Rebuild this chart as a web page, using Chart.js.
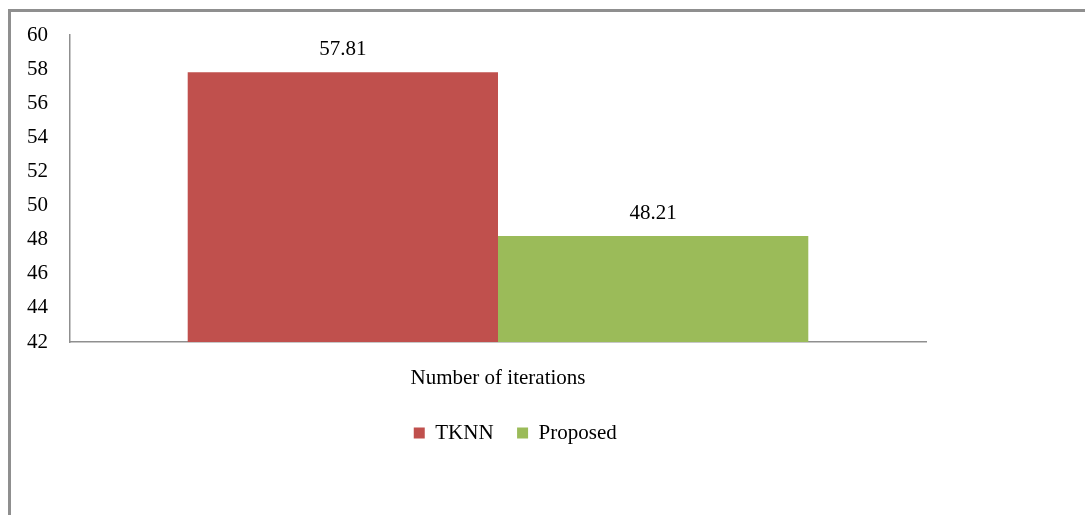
<!DOCTYPE html>
<html>
<head>
<meta charset="utf-8">
<script src="https://cdn.jsdelivr.net/npm/chart.js@4/dist/chart.umd.min.js"></script>
<style>
  body { margin: 0; background: #fff; }
  #wrap { position: relative; width: 1085px; height: 515px; }
  #frame { position: absolute; left: 8px; top: 9px; right: -10px; bottom: -10px;
           border-left: 3px solid #8f8f8f; border-top: 3px solid #8f8f8f; }
  canvas { position: absolute; left: 0; top: 0; }
</style>
</head>
<body>
<div id="wrap">
  <div id="frame"></div>
  <canvas id="chart"></canvas>
</div>
<script>
const categories = ['Number of iterations']
const seriesNames = ['TKNN', 'Proposed']
const tknnValues = [57.81]
const proposedValues = [48.21]
const yTicks = [42, 44, 46, 48, 50, 52, 54, 56, 58, 60]

const font = { family: '"Liberation Serif", "Times New Roman", serif', size: 21 }

// value labels above each bar
const barLabels = {
    id: 'barLabels',
    afterDatasetsDraw(chart) {
        const ctx = chart.ctx
        ctx.save()
        ctx.font = '21px "Liberation Serif", serif'
        ctx.fillStyle = '#000'
        ctx.textAlign = 'center'
        ctx.textBaseline = 'middle'
        chart.data.datasets.forEach((ds, i) => {
            chart.getDatasetMeta(i).data.forEach((bar, j) => {
                ctx.fillText(ds.data[j].toFixed(2), bar.x, bar.y - 23)
            })
        })
        ctx.restore()
    }
}

const data = {
    labels: categories,
    datasets: [{
        label: seriesNames[0],
        data: tknnValues,
        backgroundColor: '#C0504D',
        borderWidth: 0,
        categoryPercentage: 0.725,
        barPercentage: 1.0
    }, {
        label: seriesNames[1],
        data: proposedValues,
        backgroundColor: '#9BBB59',
        borderWidth: 0,
        categoryPercentage: 0.725,
        barPercentage: 1.0
    }]
}

const config = {
    type: 'bar',
    data: data,
    options: {
        responsive: false,
        animation: false,
        layout: { padding: { top: 35, left: 0, right: 54.5, bottom: 61.5 } },
        plugins: {
            tooltip: { enabled: false },
            legend: {
                position: 'bottom',
                labels: {
                    font: font,
                    color: '#000',
                    boxWidth: 11,
                    boxHeight: 11,
                    padding: 23.5
                }
            }
        },
        scales: {
            x: {
                grid: { display: false, drawTicks: false },
                border: { color: '#8f8f8f', width: 1.5 },
                ticks: { font: font, color: '#000', padding: 24 },
                afterFit: s => { s.height = 57 }
            },
            y: {
                min: yTicks[0],
                max: yTicks[yTicks.length - 1],
                grid: { display: false, drawTicks: false },
                border: { color: '#8f8f8f', width: 1.5 },
                ticks: { font: font, color: '#000', padding: 22, stepSize: 2 },
                afterBuildTicks: s => { s.ticks = yTicks.map(v => ({ value: v })) },
                afterFit: s => { s.width = 70 }
            },
            y2: {
                position: 'right',
                grid: { display: false },
                border: { display: false },
                ticks: { display: false },
                afterFit: s => { s.width = 104.5 }
            }
        }
    },
    plugins: [barLabels]
}

const canvas = document.getElementById('chart')
canvas.width = 1085
canvas.height = 515
new Chart(canvas.getContext('2d'), config)
</script>
</body>
</html>
